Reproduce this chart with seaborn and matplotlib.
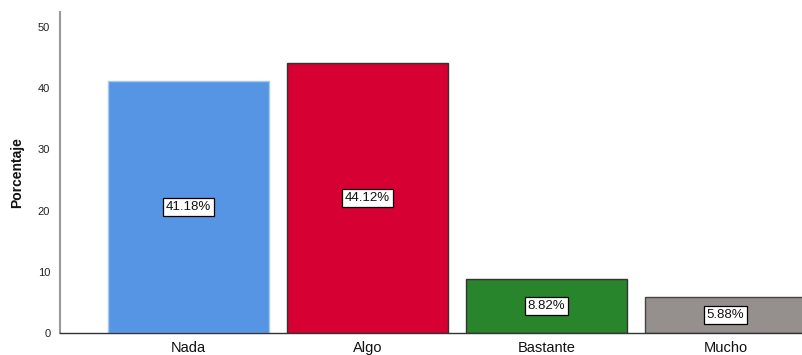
import matplotlib
matplotlib.use("Agg")
import matplotlib.pyplot as plt
import seaborn as sns
import pandas as pd

categorias = ["Nada", "Algo", "Bastante", "Mucho"]
porcentajes = [41.18, 44.12, 8.82, 5.88]
colores = ["#5694e4", "#d70032", "#28852b", "#958f8e"]
bordes = ["#a9c8f0", "#333333", "#333333", "#444444"]
yticks = [0, 10, 20, 30, 40, 50]

sns.set_style("white")
plt.rcParams["font.family"] = ["Liberation Sans", "DejaVu Sans"]

df = pd.DataFrame({"categoria": categorias, "porcentaje": porcentajes})

fig = plt.figure(figsize=(8.03, 3.55), dpi=100)
ax = fig.add_axes([60 / 803, 22 / 355, 1 - 60 / 803, 1 - 34 / 355])

sns.barplot(data=df, x="categoria", y="porcentaje", hue="categoria",
            palette=colores, width=0.9, legend=False, ax=ax, saturation=1)

for bar, ec in zip(ax.patches, bordes):
    bar.set_edgecolor(ec)
    bar.set_linewidth(1.0)

# etiquetas en el centro de cada barra
for i, v in enumerate(porcentajes):
    ax.text(i, v / 2, f"{v:.2f}%", ha="center", va="center", fontsize=9.5,
            color="#111111",
            bbox=dict(boxstyle="square,pad=0.22", fc="white", ec="black", lw=0.9))

ax.set_xlim(-0.718, 3.433)
ax.set_ylim(0, 52.45)
ax.set_yticks(yticks)
ax.set_yticklabels([str(t) for t in yticks], fontsize=8, color="#222222")
ax.tick_params(axis="x", labelsize=10.5, length=0, pad=6, labelcolor="#111111")
ax.tick_params(axis="y", length=0, pad=7)
ax.set_xlabel("")
ax.set_ylabel("Porcentaje", fontsize=10, fontweight="bold", labelpad=10,
              color="#111111")

sns.despine(ax=ax, top=True, right=True)
ax.spines["left"].set_color("#999999")
ax.spines["left"].set_linewidth(1.5)
ax.spines["bottom"].set_color("#333333")
ax.spines["bottom"].set_linewidth(1.0)

fig.savefig("out.png", dpi=100)
